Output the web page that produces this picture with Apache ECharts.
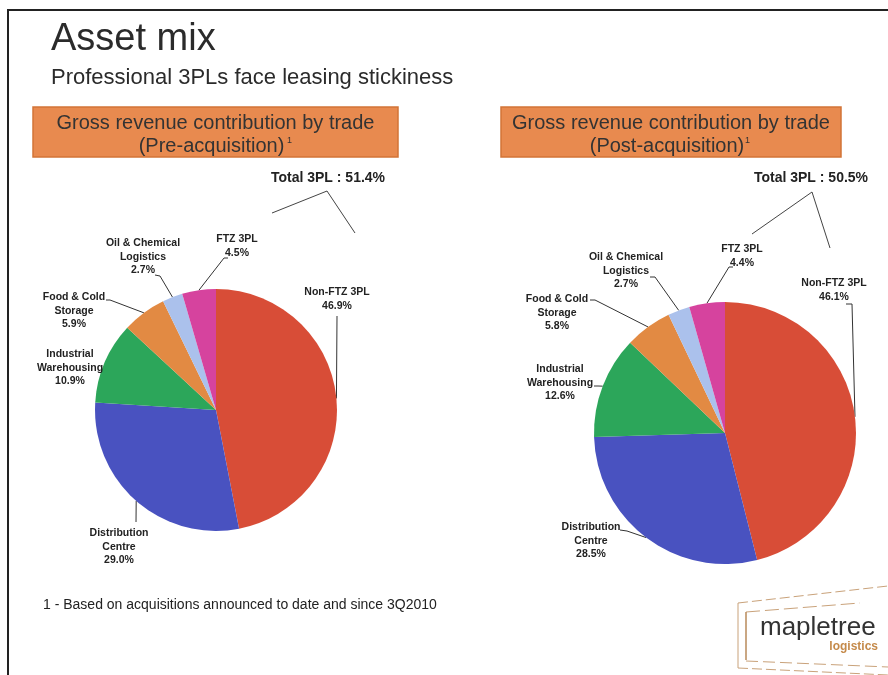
<!DOCTYPE html>
<html><head><meta charset="utf-8">
<script src="https://cdn.jsdelivr.net/npm/echarts@6/dist/echarts.min.js"></script>
<style>html,body{margin:0;padding:0;background:#fff}#c{width:888px;height:675px}</style>
</head><body><div id="c"></div>
<script>
// ---- data ----
const categories = ['Non-FTZ 3PL', 'Distribution Centre', 'Industrial Warehousing', 'Food & Cold Storage', 'Oil & Chemical Logistics', 'FTZ 3PL'];
const preValues  = [46.9, 29.0, 10.9, 5.9, 2.7, 4.5];
const postValues = [46.1, 28.5, 12.6, 5.8, 2.7, 4.4];
const totals3PL  = [51.4, 50.5];
const boxTitles  = ['Gross revenue contribution by trade', 'Gross revenue contribution by trade'];
const boxSubs    = ['(Pre-acquisition)', '(Post-acquisition)'];

// ---- styling / layout ----
const FONT = "'Liberation Sans', Arial, sans-serif";
const sliceColors = ['#d84d37', '#4952c0', '#2ca65a', '#e28a43', '#abc1ec', '#d6439e'];

// label block centres and elbow points, per series / per slice
const labelPlaces = [
  [
    {c: [337, 299], pts: [[337, 316], [337, 316]]},
    {c: [119, 547], pts: [[136, 522], [136, 522]]},
    {c: [70, 368],  pts: null},
    {c: [74, 311],  pts: [[110, 300], [106, 300]]},
    {c: [143, 257], pts: [[160, 276], [155, 275]]},
    {c: [237, 246], pts: [[224, 258], [228, 258]]}
  ],
  [
    {c: [834, 290], pts: [[852, 304], [846, 304]]},
    {c: [591, 541], pts: [[627, 531], [620, 530]]},
    {c: [560, 383], pts: [[598, 386], [594, 386]]},
    {c: [557, 313], pts: [[595, 300], [590, 300]]},
    {c: [626, 271], pts: [[655, 277], [650, 277]]},
    {c: [742, 256], pts: [[729, 267], [733, 267]]}
  ]
];

function wrapName(name) {
  if (name.indexOf('3PL') >= 0) return name;
  const i = name.lastIndexOf(' ');
  return name.slice(0, i) + '\n' + name.slice(i + 1);
}

function makePie(values, center, radius, si) {
  return {
    type: 'pie',
    center: center,
    radius: radius,
    startAngle: 90,
    clockwise: true,
    avoidLabelOverlap: false,
    minShowLabelAngle: 0,
    animation: false,
    silent: true,
    data: categories.map((n, i) => ({name: n, value: values[i], itemStyle: {color: sliceColors[i]}})),
    itemStyle: {borderWidth: 0},
    label: {
      show: true,
      position: 'outside',
      formatter: p => wrapName(p.name) + '\n' + p.value.toFixed(1) + '%',
      fontFamily: FONT,
      fontSize: 10.5,
      fontWeight: 'bold',
      lineHeight: 13.5,
      color: '#222',
      align: 'center'
    },
    labelLine: {show: true, length: 5, length2: 5, smooth: false, lineStyle: {color: '#333', width: 1}},
    labelLayout: function (params) {
      const place = labelPlaces[si][params.dataIndex];
      const p0 = params.labelLinePoints ? params.labelLinePoints[0] : place.c;
      const pts = place.pts ? [p0, place.pts[0], place.pts[1]] : [p0, p0, p0];
      return {x: place.c[0], y: place.c[1], align: 'center', verticalAlign: 'middle', labelLinePoints: pts};
    }
  };
}

function box(x, w, title, sub, supX) {
  return [
    {type: 'rect', shape: {x: x, y: 107, width: w, height: 50},
     style: {fill: '#e88a4f', stroke: '#d27437', lineWidth: 1.5}},
    {type: 'text', x: x + w / 2, y: 123,
     style: {text: title, font: '20px ' + FONT, fill: '#333', align: 'center', verticalAlign: 'middle'}},
    {type: 'text', x: x + w / 2 - 4, y: 146,
     style: {text: sub, font: '20px ' + FONT, fill: '#333', align: 'center', verticalAlign: 'middle'}},
    {type: 'text', x: supX, y: 141,
     style: {text: '1', font: '9px ' + FONT, fill: '#333', verticalAlign: 'middle'}}
  ];
}

function totalMark(cx, total, bracket) {
  return [
    {type: 'text', x: cx, y: 178,
     style: {text: 'Total 3PL : ' + total.toFixed(1) + '%', font: 'bold 14px ' + FONT, fill: '#222', align: 'center', verticalAlign: 'middle'}},
    {type: 'polyline', shape: {points: bracket}, style: {stroke: '#444', lineWidth: 1, fill: null}}
  ];
}

const chart = echarts.init(document.getElementById('c'), null, {renderer: 'canvas'});

const graphics = [
  // frame
  {type: 'line', shape: {x1: 7, y1: 10, x2: 888, y2: 10}, style: {stroke: '#222', lineWidth: 2}},
  {type: 'line', shape: {x1: 8, y1: 9, x2: 8, y2: 675}, style: {stroke: '#222', lineWidth: 2}},
  // titles
  {type: 'text', x: 51, y: 40, style: {text: 'Asset mix', font: '38px ' + FONT, fill: '#2b2b2b', verticalAlign: 'middle'}},
  {type: 'text', x: 51, y: 78, style: {text: 'Professional 3PLs face leasing stickiness', font: '22px ' + FONT, fill: '#2b2b2b', verticalAlign: 'middle'}},
  // footnote
  {type: 'text', x: 43, y: 605, style: {text: '1 - Based on acquisitions announced to date and since 3Q2010', font: '14px ' + FONT, fill: '#222', verticalAlign: 'middle'}},
  // logo frame
  {type: 'polyline', shape: {points: [[738, 603], [888, 586]]}, style: {stroke: '#c9a27a', lineWidth: 1, lineDash: [10, 4], fill: null}},
  {type: 'polyline', shape: {points: [[746, 612], [860, 603]]}, style: {stroke: '#c9a27a', lineWidth: 1, lineDash: [14, 5], fill: null}},
  {type: 'line', shape: {x1: 738, y1: 603, x2: 738, y2: 668}, style: {stroke: '#c9a27a', lineWidth: 1}},
  {type: 'line', shape: {x1: 746, y1: 612, x2: 746, y2: 660}, style: {stroke: '#b98a5a', lineWidth: 1.5}},
  {type: 'polyline', shape: {points: [[746, 661], [888, 667]]}, style: {stroke: '#c9a27a', lineWidth: 1, lineDash: [12, 5], fill: null}},
  {type: 'polyline', shape: {points: [[738, 668], [888, 675]]}, style: {stroke: '#c9a27a', lineWidth: 1, lineDash: [10, 4], fill: null}},
  {type: 'text', x: 760, y: 628, style: {text: 'mapletree', font: '26px ' + FONT, fill: '#333', verticalAlign: 'middle'}},
  {type: 'text', x: 878, y: 647, style: {text: 'logistics', font: 'bold 12px ' + FONT, fill: '#c58a4a', align: 'right', verticalAlign: 'middle'}}
]
  .concat(box(33, 365, boxTitles[0], boxSubs[0], 287))
  .concat(box(501, 340, boxTitles[1], boxSubs[1], 745))
  .concat(totalMark(328, totals3PL[0], [[272, 213], [327, 191], [355, 233]]))
  .concat(totalMark(811, totals3PL[1], [[752, 234], [812, 192], [830, 248]]));

chart.setOption({
  backgroundColor: '#ffffff',
  animation: false,
  series: [
    makePie(preValues, [216, 410], 121, 0),
    makePie(postValues, [725, 433], 131, 1)
  ],
  graphic: {elements: graphics}
});
</script>
</body></html>
